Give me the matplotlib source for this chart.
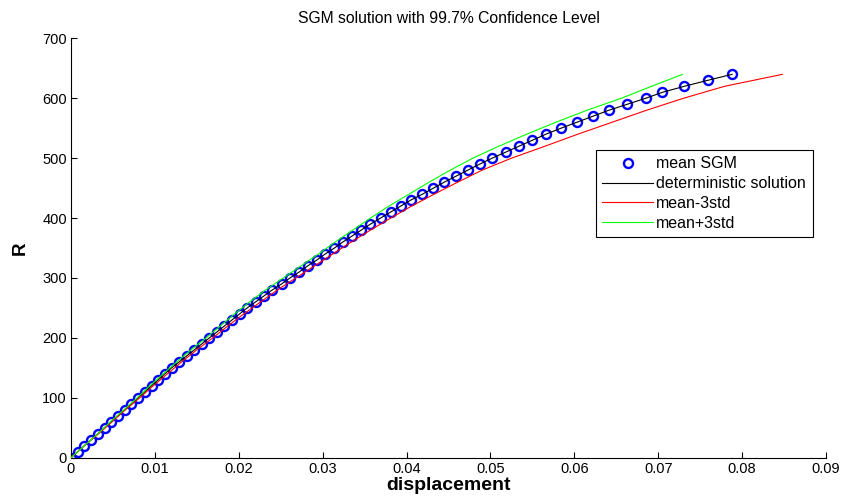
import matplotlib
matplotlib.use("Agg")
import matplotlib.pyplot as plt

# ---- data ----
R_mean = list(range(0, 641, 10))
disp_mean = [0.0, 0.0008, 0.0016, 0.0024, 0.0032, 0.0040, 0.0048, 0.0056, 0.0064, 0.0072,
             0.0080, 0.0088, 0.0096, 0.0104, 0.0112, 0.0120, 0.0129, 0.0138, 0.0147, 0.0156,
             0.0165, 0.0174, 0.0183, 0.0192, 0.0201, 0.0210, 0.0220, 0.0230, 0.0240, 0.0251,
             0.0261, 0.0272, 0.0282, 0.0293, 0.0303, 0.0314, 0.0324, 0.0335, 0.0346, 0.0357,
             0.0369, 0.0381, 0.0393, 0.0405, 0.0419, 0.0432, 0.0445, 0.0459, 0.0473, 0.0487,
             0.0502, 0.0518, 0.0534, 0.0550, 0.0566, 0.0584, 0.0603, 0.0622, 0.0641, 0.0663,
             0.0685, 0.0705, 0.0731, 0.0759, 0.0788]
disp_det = disp_mean

R_band = list(range(0, 641, 20))
disp_minus3 = [0.0, 0.0016, 0.0033, 0.0049, 0.0065, 0.0082, 0.0098, 0.0115, 0.0132, 0.0150,
               0.0169, 0.0187, 0.0206, 0.0226, 0.0246, 0.0268, 0.0290, 0.0312, 0.0334, 0.0357,
               0.0381, 0.0406, 0.0433, 0.0461, 0.0490, 0.0525, 0.0565, 0.0604, 0.0645, 0.0686,
               0.0730, 0.0779, 0.0848]
disp_plus3 = [0.0, 0.0016, 0.0032, 0.0047, 0.0063, 0.0079, 0.0094, 0.0110, 0.0126, 0.0143,
              0.0161, 0.0178, 0.0195, 0.0213, 0.0232, 0.0253, 0.0274, 0.0295, 0.0315, 0.0336,
              0.0357, 0.0379, 0.0403, 0.0427, 0.0452, 0.0479, 0.0510, 0.0543, 0.0578, 0.0615,
              0.0656, 0.0692, 0.0729]

x_ticks = [0, 0.01, 0.02, 0.03, 0.04, 0.05, 0.06, 0.07, 0.08, 0.09]
x_ticklabels = ["0", "0.01", "0.02", "0.03", "0.04", "0.05", "0.06", "0.07", "0.08", "0.09"]
y_ticks = [0, 100, 200, 300, 400, 500, 600, 700]

title = "SGM solution with 99.7% Confidence Level"
labels = ["mean SGM", "deterministic solution", "mean-3std", "mean+3std"]

plt.rcParams['font.family'] = ['Liberation Sans', 'DejaVu Sans']

fig = plt.figure(figsize=(8.43, 5.04), dpi=100)
ax = fig.add_axes([0.0842, 0.0919, 0.8956, 0.8319])

ax.plot(disp_mean, R_mean, linestyle='none', marker='o', markersize=6.5,
        markerfacecolor='none', markeredgecolor='#0000ff', markeredgewidth=1.7,
        label=labels[0], zorder=2)
ax.plot(disp_det, R_mean, color='black', linewidth=0.8, label=labels[1], zorder=3)
ax.plot(disp_minus3, R_band, color='#ff0000', linewidth=0.8, label=labels[2], zorder=3)
ax.plot(disp_plus3, R_band, color='#00ff00', linewidth=0.8, label=labels[3], zorder=3)

ax.set_xlim(0, 0.09)
ax.set_ylim(0, 700)
ax.set_xticks(x_ticks)
ax.set_xticklabels(x_ticklabels)
ax.set_yticks(y_ticks)
ax.tick_params(direction='in', length=4, width=0.8, labelsize=10.5, pad=3)
for s in ['top', 'right']:
    ax.spines[s].set_visible(False)
for s in ['left', 'bottom']:
    ax.spines[s].set_linewidth(0.8)

ax.set_title(title, fontsize=11.3, pad=11)
ax.set_xlabel("displacement", fontsize=14, fontweight='bold', labelpad=1)
ax.set_ylabel("R", fontsize=13.5, fontweight='bold', labelpad=10)

leg = ax.legend(loc='upper left', bbox_to_anchor=(0.695, 0.734), fontsize=11.5,
                frameon=True, fancybox=False, edgecolor='black', framealpha=1,
                handlelength=3.2, handletextpad=0.2, labelspacing=0.3,
                borderpad=0.4, borderaxespad=0, numpoints=1)
leg.get_frame().set_linewidth(0.8)

fig.savefig("out.png", dpi=100)
